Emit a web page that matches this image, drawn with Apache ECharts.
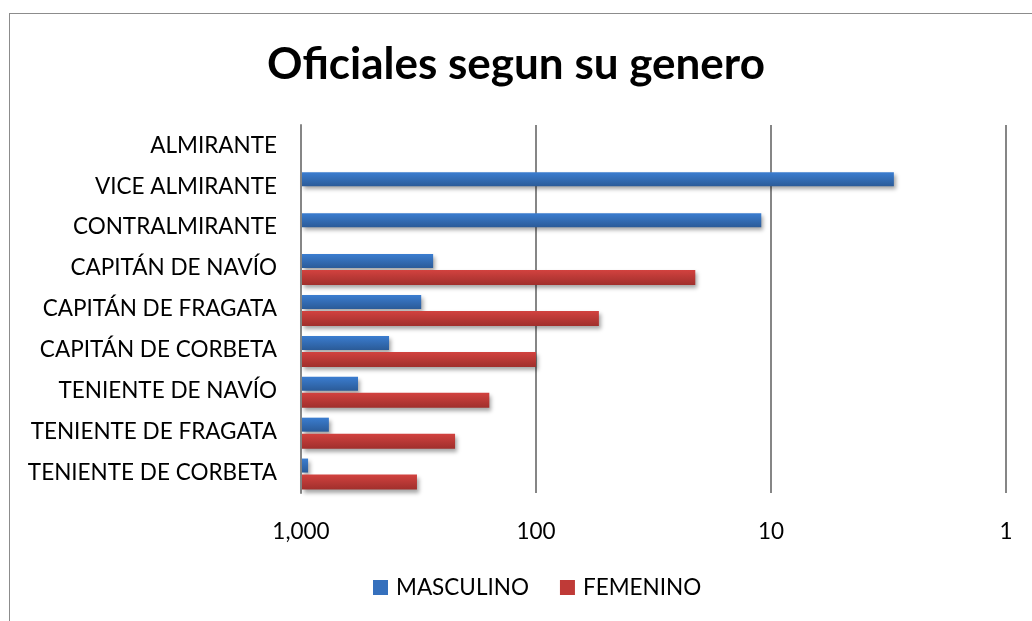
<!DOCTYPE html>
<html>
<head>
<meta charset="utf-8">
<script src="https://cdn.jsdelivr.net/npm/echarts@6/dist/echarts.min.js"></script>
<style>
html,body{margin:0;padding:0;background:#fff;}
#chart{width:1032px;height:621px;position:relative;}
#frame{position:absolute;left:9px;top:13px;width:1040px;height:640px;border:1px solid #8c8c8c;box-sizing:border-box;pointer-events:none;}
</style>
</head>
<body>
<div id="chart"></div>
<div id="frame"></div>
<script>
var categories = ['ALMIRANTE', 'VICE ALMIRANTE', 'CONTRALMIRANTE', 'CAPITÁN DE NAVÍO', 'CAPITÁN DE FRAGATA',
    'CAPITÁN DE CORBETA', 'TENIENTE DE NAVÍO', 'TENIENTE DE FRAGATA', 'TENIENTE DE CORBETA'];
var masculino = [null, 3, 11, 274, 308, 422, 572, 761, 933];
var femenino = [null, null, null, 21, 54, 100, 158, 221, 321];
var axisMin = 1, axisMax = 1000;

var chart = echarts.init(document.getElementById('chart'));

// barras desde 1,000 (izquierda) hacia el valor, eje log invertido
function makeRender(offTop, offBottom, colTop, colBottom) {
    return function (params, api) {
        var v = api.value(0);
        if (v == null || isNaN(v)) return;
        var cat = api.value(1);
        var end = api.coord([v, cat]);
        var start = api.coord([axisMax, cat]);
        return {
            type: 'rect',
            shape: {x: start[0] + 1, y: end[1] + offTop, width: end[0] - start[0] - 1, height: offBottom - offTop},
            style: {
                fill: new echarts.graphic.LinearGradient(0, 0, 0, 1, [
                    {offset: 0, color: colTop},
                    {offset: 1, color: colBottom}
                ]),
                shadowBlur: 4,
                shadowOffsetX: 2,
                shadowOffsetY: 3,
                shadowColor: 'rgba(0,0,0,0.35)'
            }
        };
    };
}

function toData(arr) {
    return arr.map(function (v, i) { return [v == null ? '-' : v, i]; });
}

var option = {
    animation: false,
    title: {
        text: 'Oficiales segun su genero',
        left: 'center',
        top: 38,
        textStyle: {fontFamily: 'Lato', fontWeight: 'bold', fontSize: 44, color: '#000'}
    },
    legend: {
        bottom: 17,
        left: 368,
        itemWidth: 15,
        itemHeight: 15,
        itemGap: 31,
        icon: 'rect',
        textStyle: {fontFamily: 'Lato', fontSize: 22.5, color: '#000', padding: [0, 0, 0, 3]},
        data: ['MASCULINO', 'FEMENINO']
    },
    grid: {left: 301, right: 26, top: 125, bottom: 128},
    xAxis: {
        type: 'log',
        logBase: 10,
        min: axisMin,
        max: axisMax,
        inverse: true,
        axisLine: {show: false},
        axisTick: {show: false},
        axisLabel: {
            fontFamily: 'Lato', fontSize: 22.5, color: '#000', margin: 27,
            formatter: function (v) { return Math.round(v).toLocaleString('en-US'); }
        },
        splitLine: {show: true, lineStyle: {color: '#868686', width: 2}}
    },
    yAxis: {
        type: 'category',
        inverse: true,
        data: categories,
        axisLine: {onZero: false, lineStyle: {color: '#868686', width: 2}},
        axisTick: {show: false},
        axisLabel: {fontFamily: 'Lato', fontSize: 22.5, color: '#000', margin: 24}
    },
    series: [{
        name: 'MASCULINO',
        type: 'custom',
        itemStyle: {color: '#3570bd'},
        encode: {x: 0, y: 1},
        renderItem: makeRender(-14, 0, '#3b7dd0', '#2b5b98'),
        data: toData(masculino)
    }, {
        name: 'FEMENINO',
        type: 'custom',
        itemStyle: {color: '#bf3a37'},
        encode: {x: 0, y: 1},
        renderItem: makeRender(2, 17, '#d2423f', '#a02f2c'),
        data: toData(femenino)
    }]
};
chart.setOption(option);
</script>
</body>
</html>
